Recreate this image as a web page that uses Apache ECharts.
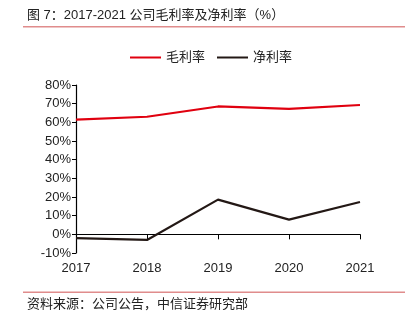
<!DOCTYPE html>
<html><head><meta charset="utf-8">
<script src="https://cdn.jsdelivr.net/npm/echarts@6/dist/echarts.min.js"></script>
<style>html,body{margin:0;padding:0;background:#fff}#c{width:411px;height:324px}</style>
</head><body><div id="c"></div>
<script>
const years = ['2017','2018','2019','2020','2021'];
const grossMargin = [61.5, 63.0, 68.5, 67.2, 69.3];
const netMargin = [-2.0, -3.0, 18.6, 7.9, 17.3];
const yTicks = {min: -10, max: 80, interval: 10};

const chart = echarts.init(document.getElementById('c'));
const font = '"Liberation Sans", Arial, "Noto Sans CJK SC", sans-serif';
chart.setOption({
  animation: false,
  textStyle: {fontFamily: font},
  graphic: [
    {type:'text', left: 27, top: 9, style:{text:'图 7：2017-2021 公司毛利率及净利率（%）', font:'13px ' + font, fill:'#222'}},
    {type:'rect', shape:{x:23, y:26, width:382, height:1.5}, style:{fill:'#e08c8c'}},
    {type:'rect', shape:{x:23, y:291.5, width:382, height:1.5}, style:{fill:'#e08c8c'}},
    {type:'text', left: 27, top: 298, style:{text:'资料来源：公司公告，中信证券研究部', font:'13px ' + font, fill:'#222'}}
  ],
  legend: {
    top: 46, left: 125, itemWidth: 31, itemHeight: 2, itemGap: 12,
    icon: 'rect',
    textStyle: {fontSize: 13, color: '#222', fontFamily: font},
    data: ['毛利率','净利率']
  },
  grid: {left: 76, right: 51, top: 85, bottom: 71},
  xAxis: [
    {type:'category', data: years, boundaryGap: false,
     axisLine:{onZero:true, lineStyle:{color:'#000', width:1.2}},
     axisTick:{show:true, length:5, lineStyle:{color:'#000'}},
     axisLabel:{show:false}, splitLine:{show:false}},
    {type:'category', data: years, boundaryGap: false, position:'bottom',
     axisLine:{show:false, onZero:false}, axisTick:{show:false},
     axisLabel:{show:true, color:'#222', fontSize:13, margin:9, fontFamily: font}}
  ],
  yAxis: {type:'value', min: yTicks.min, max: yTicks.max, interval: yTicks.interval,
    axisLine:{show:true, lineStyle:{color:'#000', width:1.2}},
    axisTick:{show:true, length:4, inside:false, lineStyle:{color:'#000'}},
    axisLabel:{formatter:'{value}%', color:'#222', fontSize:13, margin:5, fontFamily: font},
    splitLine:{show:false}},
  series: [
    {name:'毛利率', type:'line', data: grossMargin, symbol:'none', xAxisIndex:0,
     lineStyle:{color:'#e0000f', width:2.2}, itemStyle:{color:'#e0000f'}},
    {name:'净利率', type:'line', data: netMargin, symbol:'none', xAxisIndex:0,
     lineStyle:{color:'#231815', width:2.2}, itemStyle:{color:'#231815'}}
  ]
});
</script></body></html>
